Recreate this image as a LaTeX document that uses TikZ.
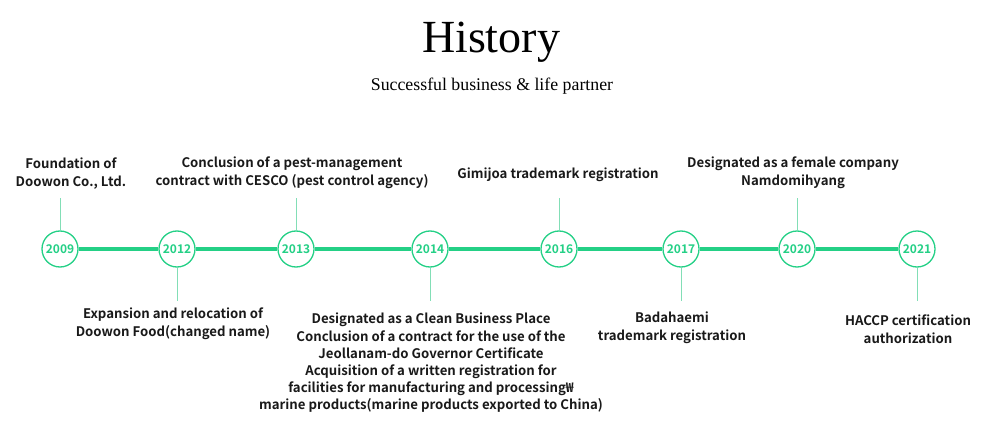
\documentclass[tikz,border=0pt]{standalone}
\usepackage{fontspec}
\setmainfont{Liberation Serif}
\newfontfamily\eventfont{Noto Sans CJK KR}[BoldFont={* Bold}]
\definecolor{mint}{RGB}{36,208,134}
\definecolor{palemint}{RGB}{130,222,182}

\tikzset{year/.style={circle,draw=mint,line width=1.3pt,fill=white,minimum size=36pt,inner sep=0pt,text=mint,font=\eventfont\bfseries\fontsize{12}{12}\selectfont}}
\tikzset{event/.style={align=center,inner sep=0pt,anchor=north,text=black!90,font=\eventfont\bfseries\fontsize{13.2}{17.2}\selectfont}}
\tikzset{stem/.style={draw=palemint,line width=1pt}}
\tikzset{timeline/.style={draw=mint,line width=4.5pt}}

\begin{document}
\begin{tikzpicture}[x=1pt,y=-1pt]
	\useasboundingbox (0,0) rectangle (982,433);

	% heading
	\node[anchor=base,font=\fontsize{46}{46}\selectfont] (title) at (491,53) {History};
	\node[anchor=base,font=\fontsize{17.8}{17.8}\selectfont] (subtitle) at (492,91) {Successful business \& life partner};

	% years
	\node[year] (y2009) at (60,249) {2009};
	\node[year] (y2012) at (177,249) {2012};
	\node[year] (y2013) at (296,249) {2013};
	\node[year] (y2014) at (430,249) {2014};
	\node[year] (y2016) at (559,249) {2016};
	\node[year] (y2017) at (681,249) {2017};
	\node[year] (y2020) at (797,249) {2020};
	\node[year] (y2021) at (917,249) {2021};
	\draw[timeline] (y2009) -- (y2012) (y2012) -- (y2013) (y2013) -- (y2014) (y2014) -- (y2016)
		(y2016) -- (y2017) (y2017) -- (y2020) (y2020) -- (y2021);

	% events above the line
	\node[event] (l2009) at (71,158) {Foundation of\\Doowon Co., Ltd.};
	\coordinate (s2009) at (60,198);
		\path[stem] (s2009) -- (y2009);
	\node[event] (l2013) at (292,157) {Conclusion of a pest-management\\contract with CESCO (pest control agency)};
	\coordinate (s2013) at (296,198);
		\path[stem] (s2013) -- (y2013);
	\node[event] (l2016) at (558,168) {Gimijoa trademark registration};
	\coordinate (s2016) at (559,198);
		\path[stem] (s2016) -- (y2016);
	\node[event] (l2020) at (793,157) {Designated as a female company\\Namdomihyang};
	\coordinate (s2020) at (797,198);
		\path[stem] (s2020) -- (y2020);

	% events below the line
	\node[event] (l2012) at (173,308) {Expansion and relocation of\\Doowon Food(changed name)};
	\coordinate (s2012) at (177,301);
		\path[stem] (y2012) -- (s2012);
	\node[event] (l2014) at (431,313) {Designated as a Clean Business Place\\Conclusion of a contract for the use of the\\Jeollanam-do Governor Certificate\\Acquisition of a written registration for\\facilities for manufacturing and processing₩\\marine products(marine products exported to China)};
	\coordinate (s2014) at (430,301);
		\path[stem] (y2014) -- (s2014);
	\node[event] (l2017) at (672,312) {Badahaemi\\trademark registration};
	\coordinate (s2017) at (681,301);
		\path[stem] (y2017) -- (s2017);
	\node[event] (l2021) at (908,315) {HACCP certification\\authorization};
	\coordinate (s2021) at (917,301);
		\path[stem] (y2021) -- (s2021);

\end{tikzpicture}
\end{document}
